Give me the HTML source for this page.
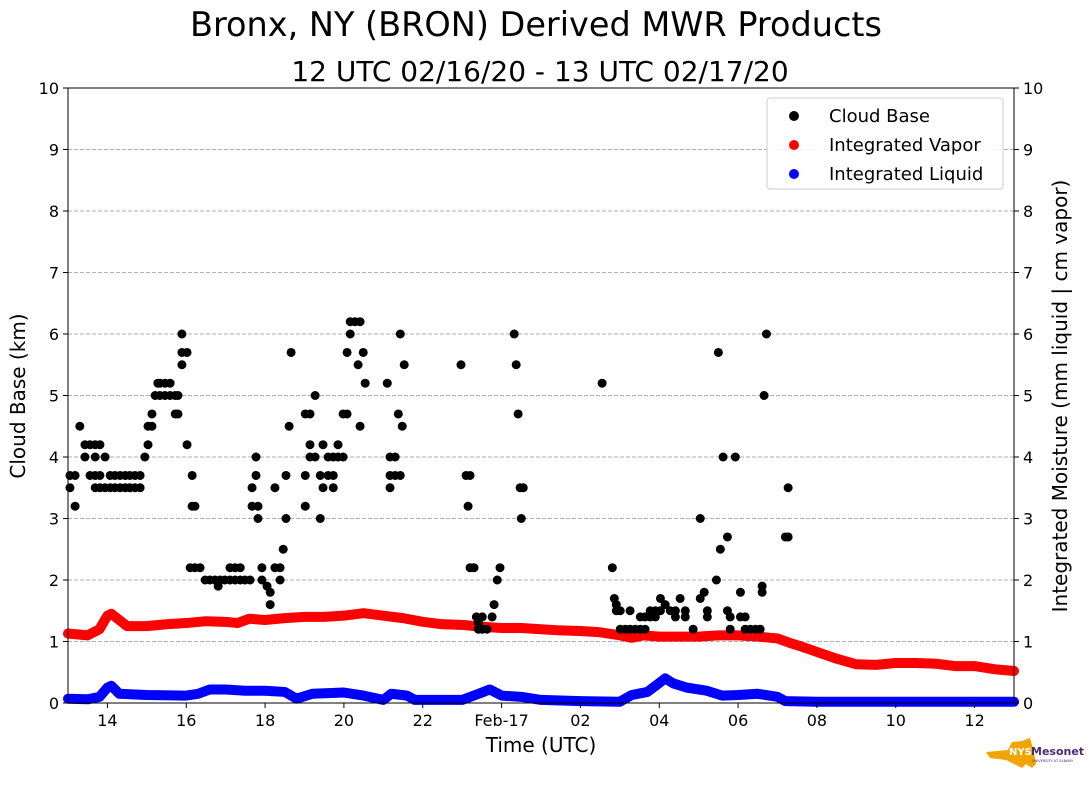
<!DOCTYPE html>
<html><head><meta charset="utf-8"><style>
body{margin:0;background:#fff;}
svg text{font-family:"DejaVu Sans","Liberation Sans",sans-serif;}
</style></head><body>
<svg id="chart" width="1089" height="804" xmlns="http://www.w3.org/2000/svg">
<rect width="1089" height="804" fill="#fff"/>
<text x="536" y="36" font-size="33.5" text-anchor="middle">Bronx, NY (BRON) Derived MWR Products</text>
<text x="540" y="81" font-size="28" text-anchor="middle">12 UTC 02/16/20 - 13 UTC 02/17/20</text>
<g id="grid"></g>
<g id="series"></g>
<rect x="68" y="88" width="946" height="615" fill="none" stroke="#000" stroke-width="1"/>
<g id="axes"></g>
<text x="541" y="752" font-size="20" text-anchor="middle">Time (UTC)</text>
<text transform="translate(25,396) rotate(-90)" font-size="20" text-anchor="middle">Cloud Base (km)</text>
<text transform="translate(1067,396) rotate(-90)" font-size="20" text-anchor="middle">Integrated Moisture (mm liquid | cm vapor)</text>
<g>
<rect x="767" y="98" width="236" height="91" rx="3" fill="#fff" fill-opacity="0.85" stroke="#ccc"/>
<circle cx="794" cy="116" r="5"/><text x="829" y="122" font-size="18">Cloud Base</text>
<circle cx="794" cy="145" r="5" fill="red"/><text x="829" y="151" font-size="18">Integrated Vapor</text>
<circle cx="794" cy="174" r="5" fill="blue"/><text x="829" y="180" font-size="18">Integrated Liquid</text>
</g>
<g>
<path d="M986 752 L1008 750 L1012 742 L1022 741 L1030 738 L1034 752 L1036 764 L1032 768 L1026 764 L1022 768 L1006 760 L990 758 Z" fill="#f0a500"/>
<text x="1009" y="755" font-size="10" font-weight="bold" fill="#fff">NYS</text>
<text x="1031" y="755" font-size="11" font-weight="bold" fill="#4a2a7a">Mesonet</text>
<text x="1032" y="762" font-size="3.5" fill="#4a2a7a">UNIVERSITY AT ALBANY</text>
</g>
</svg>
<script>
const cloudHours=[13.05,13.05,13.18,13.18,13.3,13.43,13.43,13.56,13.56,13.69,13.69,13.69,13.69,13.81,13.81,13.81,13.94,13.94,14.07,14.07,14.19,14.19,14.32,14.32,14.45,14.45,14.57,14.57,14.7,14.7,14.83,14.83,14.95,15.03,15.03,15.13,15.13,15.21,15.28,15.33,15.33,15.46,15.46,15.59,15.59,15.72,15.72,15.79,15.79,15.89,15.89,15.89,16.02,16.02,16.1,16.15,16.15,16.22,16.22,16.35,16.48,16.6,16.73,16.81,16.86,16.98,17.11,17.11,17.24,17.24,17.37,17.37,17.49,17.62,17.67,17.67,17.77,17.77,17.82,17.82,17.92,17.92,18.05,18.13,18.13,18.25,18.25,18.38,18.38,18.46,18.53,18.53,18.61,18.66,19.02,19.02,19.02,19.14,19.14,19.14,19.27,19.27,19.4,19.4,19.47,19.47,19.6,19.6,19.73,19.73,19.73,19.85,19.85,19.98,19.98,20.08,20.08,20.16,20.16,20.28,20.36,20.41,20.41,20.49,20.54,21.1,21.17,21.17,21.17,21.3,21.3,21.38,21.43,21.43,21.48,21.53,22.97,23.1,23.15,23.2,23.2,23.3,23.36,23.41,23.41,23.51,23.51,23.63,23.76,23.81,23.89,23.96,24.32,24.37,24.42,24.47,24.5,24.55,26.55,26.81,26.86,26.91,26.91,27.01,27.01,27.14,27.26,27.26,27.39,27.52,27.52,27.64,27.64,27.77,27.77,27.9,27.9,28.03,28.03,28.15,28.28,28.41,28.41,28.53,28.66,28.66,28.86,29.04,29.04,29.14,29.22,29.22,29.45,29.5,29.55,29.62,29.73,29.73,29.8,29.8,29.93,30.06,30.06,30.18,30.18,30.31,30.44,30.56,30.61,30.61,30.66,30.72,31.2,31.27,31.27];
const cloudKm=[3.5,3.7,3.2,3.7,4.5,4.0,4.2,3.7,4.2,3.5,3.7,4.0,4.2,4.2,3.7,3.5,4.0,3.5,3.7,3.5,3.7,3.5,3.5,3.7,3.5,3.7,3.5,3.7,3.5,3.7,3.5,3.7,4.0,4.2,4.5,4.7,4.5,5.0,5.2,5.2,5.0,5.2,5.0,5.2,5.0,5.0,4.7,5.0,4.7,5.5,6.0,5.7,5.7,4.2,2.2,3.2,3.7,3.2,2.2,2.2,2.0,2.0,2.0,1.9,2.0,2.0,2.0,2.2,2.0,2.2,2.0,2.2,2.0,2.0,3.2,3.5,3.7,4.0,3.2,3.0,2.2,2.0,1.9,1.6,1.8,2.2,3.5,2.0,2.2,2.5,3.0,3.7,4.5,5.7,4.7,3.2,3.7,4.7,4.0,4.2,5.0,4.0,3.0,3.7,4.2,3.5,3.7,4.0,3.5,3.7,4.0,4.2,4.0,4.0,4.7,5.7,4.7,6.2,6.0,6.2,5.5,6.2,4.5,5.7,5.2,5.2,4.0,3.7,3.5,3.7,4.0,4.7,6.0,3.7,4.5,5.5,5.5,3.7,3.2,2.2,3.7,2.2,1.4,1.3,1.2,1.4,1.2,1.2,1.4,1.6,2.0,2.2,6.0,5.5,4.7,3.5,3.0,3.5,5.2,2.2,1.7,1.5,1.6,1.5,1.2,1.2,1.5,1.2,1.2,1.4,1.2,1.4,1.2,1.4,1.5,1.4,1.5,1.7,1.5,1.6,1.5,1.4,1.5,1.7,1.4,1.5,1.2,1.7,3.0,1.8,1.5,1.4,2.0,5.7,2.5,4.0,2.7,1.5,1.4,1.2,4.0,1.8,1.4,1.2,1.4,1.2,1.2,1.2,1.8,1.9,5.0,6.0,2.7,3.5,2.7];
const vaporHours=[13,13.5,13.8,14,14.1,14.3,14.5,15,15.5,16,16.5,17,17.3,17.6,18,18.5,19,19.5,20,20.5,21,21.5,22,22.5,23,23.5,24,24.5,25,25.5,26,26.5,27,27.3,27.6,28,28.5,29,29.5,30,30.5,31,31.3,31.6,32,32.5,33,33.5,34,34.5,35,35.5,36,36.5,37];
const vaporVals=[1.13,1.1,1.2,1.42,1.45,1.35,1.25,1.25,1.28,1.3,1.33,1.32,1.3,1.37,1.35,1.38,1.4,1.4,1.42,1.46,1.42,1.38,1.32,1.28,1.27,1.24,1.22,1.22,1.2,1.18,1.17,1.15,1.1,1.06,1.1,1.08,1.08,1.08,1.1,1.1,1.08,1.05,0.98,0.92,0.83,0.72,0.63,0.62,0.65,0.65,0.64,0.6,0.6,0.55,0.52];
const liquidHours=[13,13.5,13.8,14,14.1,14.3,15,16,16.3,16.6,17,17.5,18,18.5,18.8,19.2,20,20.5,21,21.2,21.6,21.8,23,23.5,23.7,24,24.5,25,26,27,27.3,27.7,27.95,28.15,28.35,28.7,29.2,29.6,30,30.5,31,31.2,32,37];
const liquidVals=[0.07,0.06,0.1,0.25,0.28,0.15,0.13,0.12,0.15,0.22,0.22,0.2,0.2,0.18,0.07,0.15,0.17,0.12,0.05,0.15,0.12,0.05,0.05,0.17,0.22,0.12,0.1,0.05,0.03,0.02,0.13,0.18,0.3,0.4,0.32,0.25,0.2,0.12,0.13,0.15,0.1,0.03,0.02,0.02];
const yTicks=[0,1,2,3,4,5,6,7,8,9,10];
const xTickHours=[14,16,18,20,22,24,26,28,30,32,34,36];
const xTickLabels=["14","16","18","20","22","Feb-17","02","04","06","08","10","12"];

const NS="http://www.w3.org/2000/svg";
const X0=68,X1=1014,Y0=703,Y1=88,H0=13,H1=37;
function xs(h){return X0+(h-H0)/(H1-H0)*(X1-X0);}
function ys(v){return Y0-v/10*(Y0-Y1);}
function mk(tag,attrs,parent){const e=document.createElementNS(NS,tag);for(const k in attrs)e.setAttribute(k,attrs[k]);parent.appendChild(e);return e;}
const grid=document.getElementById('grid'),axes=document.getElementById('axes'),ser=document.getElementById('series');
yTicks.forEach(v=>{
  const y=ys(v);
  if(v>0&&v<10){const g=mk('line',{x1:X0,x2:X1,y1:y,y2:y,stroke:'#b0b0b0','stroke-dasharray':'4,2'},grid);
  
  }
  mk('line',{x1:X0-5,x2:X0,y1:y,y2:y,stroke:'#000'},axes);
  mk('line',{x1:X1,x2:X1+5,y1:y,y2:y,stroke:'#000'},axes);
  const t1=mk('text',{x:X0-9,y:y+6,'font-size':16,'text-anchor':'end'},axes);t1.textContent=v;
  
  
  const t2=mk('text',{x:X1+9,y:y+6,'font-size':16},axes);t2.textContent=v;
  
  
});
xTickHours.forEach((h,i)=>{
  const x=xs(h);
  mk('line',{x1:x,x2:x,y1:Y0,y2:Y0+5,stroke:'#000'},axes);
  const t=mk('text',{x:x,y:Y0+23,'font-size':16,'text-anchor':'middle'},axes);t.textContent=xTickLabels[i];
  
  
});
function line(hs,vs,color,name){
  const p=mk('polyline',{points:hs.map((h,i)=>xs(h)+','+ys(vs[i])).join(' '),fill:'none',stroke:color,'stroke-width':10,'stroke-linejoin':'round','stroke-linecap':'round'},ser);
  
  
}
line(vaporHours,vaporVals,'red','integrated-vapor-series');
line(liquidHours,liquidVals,'blue','integrated-liquid-series');
cloudHours.forEach((h,i)=>{
  const c=mk('circle',{cx:xs(h),cy:ys(cloudKm[i]),r:4.5,fill:'#000'},ser);
  
  
});
</script>
</body></html>
